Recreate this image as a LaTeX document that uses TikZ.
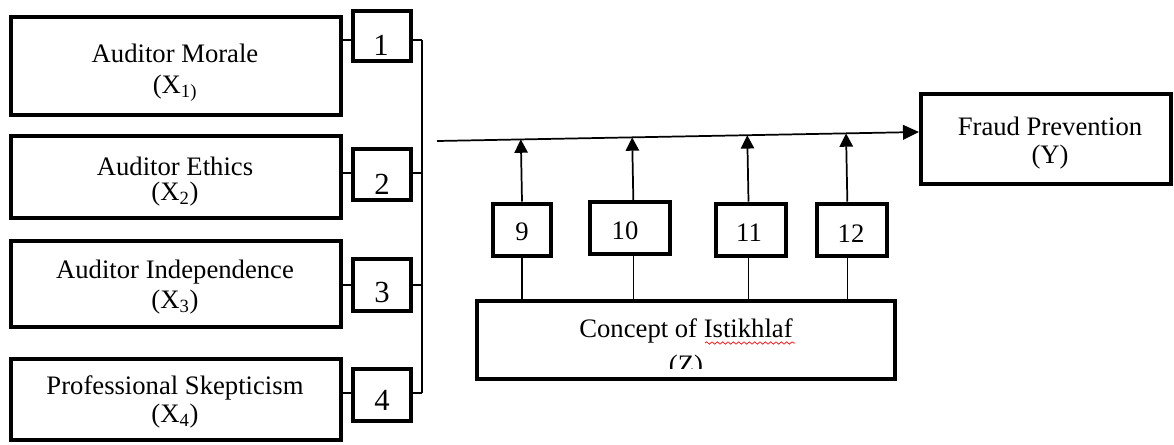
\documentclass[tikz,border=0pt]{standalone}
\usepackage{fontspec}
\setmainfont{Liberation Serif}
\usetikzlibrary{arrows.meta,calc,decorations.pathmorphing}
\begin{document}
\begin{tikzpicture}[x=0.75pt,y=-0.75pt,
  bigbox/.style={draw, line width=3pt, inner sep=0pt},
  numbox/.style={draw, line width=3pt, inner sep=0pt},
  txt/.style={anchor=base, inner sep=0pt, font=\fontsize{20}{24}\selectfont},
  numtxt/.style={anchor=base, inner sep=0pt, font=\fontsize{23}{27}\selectfont},
  conn/.style={line width=1.2pt},
  mainarrow/.style={line width=1.3pt, -{Triangle[length=12pt,width=11pt]}},
  uparrow/.style={line width=1.3pt, -{Triangle[length=10pt,width=10pt]}}
]
\useasboundingbox (0,0) rectangle (1174,444);

% left boxes
\node[bigbox, minimum width=247pt, minimum height=73pt] (b1) at (176,66) {};
\node[bigbox, minimum width=247pt, minimum height=61pt] (b2) at (176,177) {};
\node[bigbox, minimum width=247pt, minimum height=65pt] (b3) at (176,284) {};
\node[bigbox, minimum width=247pt, minimum height=61pt] (b4) at (176,399.5) {};

\node[txt] (t1a) at (175,62) {Auditor Morale};
\node[txt] (t1b) at (175,93) {(X\textsubscript{1)}};
\node[txt] (t2a) at (175,175) {Auditor Ethics};
\node[txt] (t2b) at (175,200) {(X\textsubscript{2})};
\node[txt] (t3a) at (175,278) {Auditor Independence};
\node[txt] (t3b) at (175,308) {(X\textsubscript{3})};
\node[txt] (t4a) at (175,394) {Professional Skepticism};
\node[txt] (t4b) at (175,422) {(X\textsubscript{4})};

% number boxes 1-4
\node[numbox, minimum width=43pt, minimum height=37pt] (n1) at (382,36) {};
\node[numbox, minimum width=43pt, minimum height=38pt] (n2) at (382,174.5) {};
\node[numbox, minimum width=43pt, minimum height=38.5pt] (n3) at (382,285) {};
\node[numbox, minimum width=43pt, minimum height=39pt] (n4) at (382,394.5) {};
\node[numtxt] (l1) at (381,55) {1};
\node[numtxt] (l2) at (382,194) {2};
\node[numtxt] (l3) at (382,302) {3};
\node[numtxt] (l4) at (382,410) {4};

% connectors left boxes -> number boxes
\coordinate (y1) at (0,40);
\coordinate (y2) at (0,173);
\coordinate (y3) at (0,285);
\coordinate (y4) at (0,393);
\draw[conn] (b1.east |- y1) -- (n1.west |- y1);
\draw[conn] (b2.east |- y2) -- (n2.west |- y2);
\draw[conn] (b3.east |- y3) -- (n3.west |- y3);
\draw[conn] (b4.east |- y4) -- (n4.west |- y4);

% bus
\coordinate (bt) at (422,40);
\coordinate (bb) at (422,393);
\draw[conn] (n1.east |- y1) -- (bt);
\draw[conn] (n2.east |- y2) -- (bt |- y2);
\draw[conn] (n3.east |- y3) -- (bt |- y3);
\draw[conn] (n4.east |- y4) -- (bb);
\draw[conn] (bt) -- (bb);

% Fraud prevention
\node[bigbox, minimum width=187pt, minimum height=67pt] (fp) at (1046,139) {};
\node[txt] (tfa) at (1050,135) {Fraud Prevention};
\node[txt] (tfb) at (1050,163) {(Y)};

% main arrow
\coordinate (ms) at (437,141);
\coordinate (me) at (919,132);
\draw[mainarrow] (ms) -- (me);

% moderator boxes 9-12
\node[numbox, minimum width=43pt, minimum height=39pt] (n9) at (522,229.5) {};
\node[numbox, minimum width=60pt, minimum height=38.5pt] (n10) at (630,228) {};
\node[numbox, minimum width=52.5pt, minimum height=39pt] (n11) at (750.5,229.5) {};
\node[numbox, minimum width=52pt, minimum height=39pt] (n12) at (852,229.5) {};
\node[txt] (l9) at (522,240) {9};
\node[txt] (l10) at (625,239) {10};
\node[txt] (l11) at (749,241) {11};
\node[txt] (l12) at (851,242) {12};

% Z box
\node[bigbox, minimum width=314pt, minimum height=58pt] (z) at (686,340) {};
\node[txt] (tza) at (686,337) {Concept of Istikhlaf};
\draw[red, line width=0.5pt, decorate, decoration={snake, amplitude=0.9pt, segment length=4pt}] (705,343) -- (795,343);
\begin{scope}
\clip (480,300) rectangle (892,368);
\node[txt] (tzb) at (686,373) {(Z)};
\end{scope}

% arrows up to main line
\draw[uparrow] (n9.north) -- ($(ms)!(n9.north)!(me)$);
\draw[uparrow] ([xshift=2.5pt]n10.north) -- ($(ms)!([xshift=2.5pt]n10.north)!(me)$);
\draw[uparrow] ([xshift=-1.5pt]n11.north) -- ($(ms)!([xshift=-1.5pt]n11.north)!(me)$);
\draw[uparrow] ([xshift=-3.5pt]n12.north) -- ($(ms)!([xshift=-3.5pt]n12.north)!(me)$);

% lines from Z to boxes
\draw[conn] (n9.south) -- (n9.south |- z.north);
\draw[conn] ([xshift=2.5pt]n10.south) -- ([xshift=2.5pt]n10.south |- z.north);
\draw[conn] ([xshift=-1.5pt]n11.south) -- ([xshift=-1.5pt]n11.south |- z.north);
\draw[conn] ([xshift=-3.5pt]n12.south) -- ([xshift=-3.5pt]n12.south |- z.north);
\end{tikzpicture}
\end{document}
